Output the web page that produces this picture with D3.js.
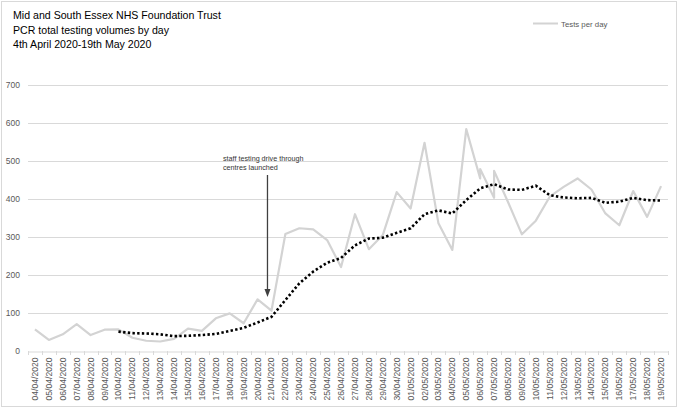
<!DOCTYPE html>
<html>
<head>
<meta charset="utf-8">
<script src="https://cdn.jsdelivr.net/npm/d3@7"></script>
<style>
  html, body { margin: 0; padding: 0; background: #fff; }
  svg { display: block; }
</style>
</head>
<body>
<svg id="chart" width="680" height="408"></svg>
<script>
// ---------- DATA ----------
const titleLines = [
  "Mid and South Essex NHS Foundation Trust",
  "PCR total testing volumes by day",
  "4th April 2020-19th May 2020"
];
const dateLabels = [
  "04/04/2020","05/04/2020","06/04/2020","07/04/2020","08/04/2020","09/04/2020",
  "10/04/2020","11/04/2020","12/04/2020","13/04/2020","14/04/2020","15/04/2020",
  "16/04/2020","17/04/2020","18/04/2020","19/04/2020","20/04/2020","21/04/2020",
  "22/04/2020","23/04/2020","24/04/2020","25/04/2020","26/04/2020","27/04/2020",
  "28/04/2020","29/04/2020","30/04/2020","01/05/2020","02/05/2020","03/05/2020",
  "04/05/2020","05/05/2020","06/05/2020","07/05/2020","08/05/2020","09/05/2020",
  "10/05/2020","11/05/2020","12/05/2020","13/05/2020","14/05/2020","15/05/2020",
  "16/05/2020","17/05/2020","18/05/2020","19/05/2020"
];
// test records (two records on 06/05 and 07/05)
const testDates = [
  "04/04/2020","05/04/2020","06/04/2020","07/04/2020","08/04/2020","09/04/2020",
  "10/04/2020","11/04/2020","12/04/2020","13/04/2020","14/04/2020","15/04/2020",
  "16/04/2020","17/04/2020","18/04/2020","19/04/2020","20/04/2020","21/04/2020",
  "22/04/2020","23/04/2020","24/04/2020","25/04/2020","26/04/2020","27/04/2020",
  "28/04/2020","29/04/2020","30/04/2020","01/05/2020","02/05/2020","03/05/2020",
  "04/05/2020","05/05/2020","06/05/2020","06/05/2020","07/05/2020","07/05/2020",
  "08/05/2020","09/05/2020","10/05/2020","11/05/2020","12/05/2020","13/05/2020",
  "14/05/2020","15/05/2020","16/05/2020","17/05/2020","18/05/2020","19/05/2020"
];
const testsPerDay = [
  57, 29, 44, 71, 42, 56,
  57, 35, 27, 25, 32, 59,
  53, 86, 99, 73, 136, 106,
  308, 323, 320, 292, 221, 360,
  268, 305, 418, 375, 548, 336,
  266, 584, 454, 479, 403, 474,
  392, 307, 343, 406, 432, 454,
  425, 362, 331, 421, 353, 434
];
// moving-average trend line, 10/04/2020 .. 19/05/2020
const trendDates = dateLabels.slice(6);
const trendValues = [
  51, 47, 46, 44, 39, 40, 42, 45, 53, 61,
  75, 90, 134, 178, 209, 232, 245, 278, 296, 298,
  311, 323, 360, 370, 362, 397, 428, 439, 425, 424,
  435, 410, 404, 402, 403, 390, 393, 403, 397, 396
];
const yTicks = [0, 100, 200, 300, 400, 500, 600, 700];
const legendLabel = "Tests per day";
const annotationLines = ["staff testing drive through", "centres launched"];
const annotationDate = "21/04/2020";

// ---------- LAYOUT ----------
const svg = d3.select("#chart");
const plot = { left: 28, right: 668, top: 85, bottom: 351 };
const font = "'Liberation Sans', Arial, sans-serif";
const textGray = "#595959";

svg.append("rect")
  .attr("x", 1.5).attr("y", 1.5).attr("width", 675).attr("height", 405)
  .attr("fill", "#fff").attr("stroke", "#d9d9d9").attr("stroke-width", 1);

const x = d3.scaleBand().domain(dateLabels).range([plot.left, plot.right]).padding(0);
const xc = d => x(d) + x.bandwidth() / 2;
const y = d3.scaleLinear().domain([0, 700]).range([plot.bottom, plot.top]);

// gridlines
svg.append("g").selectAll("line").data(yTicks.filter(t => t > 0)).join("line")
  .attr("x1", plot.left).attr("x2", plot.right)
  .attr("y1", d => Math.round(y(d)) + 0.5).attr("y2", d => Math.round(y(d)) + 0.5)
  .attr("stroke", "#d9d9d9").attr("stroke-width", 1);

// y axis labels
const yAxis = d3.axisLeft(y).tickValues(yTicks).tickSize(0).tickPadding(8);
const gy = svg.append("g").attr("transform", `translate(${plot.left},0)`).call(yAxis);
gy.select(".domain").remove();
gy.selectAll("text").attr("font-family", font).attr("font-size", 8.5).attr("fill", textGray);

// x axis
const xAxis = d3.axisBottom(x).tickSize(0).tickPadding(0);
const gx = svg.append("g").attr("transform", `translate(0,${Math.round(plot.bottom) + 0.5})`).call(xAxis);
gx.select(".domain").attr("stroke", "#d9d9d9");
gx.selectAll("text")
  .attr("font-family", font).attr("font-size", 8.6).attr("fill", textGray)
  .attr("text-anchor", "end")
  .attr("transform", "translate(3,6) rotate(-90)")
  .attr("dy", 0).attr("dx", 0).attr("y", 0);
// category boundary tick marks
svg.append("g").selectAll("line").data(dateLabels.concat(["__end"])).join("line")
  .attr("x1", (d, i) => Math.round(plot.left + i * x.bandwidth()) + 0.5)
  .attr("x2", (d, i) => Math.round(plot.left + i * x.bandwidth()) + 0.5)
  .attr("y1", plot.bottom).attr("y2", plot.bottom + 4)
  .attr("stroke", "#d9d9d9").attr("stroke-width", 1);

// tests per day line
const testPoints = testDates.map((d, i) => [xc(d), y(testsPerDay[i])]);
svg.append("path")
  .attr("d", d3.line()(testPoints))
  .attr("fill", "none").attr("stroke", "#d3d3d3").attr("stroke-width", 2.2)
  .attr("stroke-linejoin", "round");

// trend line (dotted)
const trendPoints = trendDates.map((d, i) => [xc(d), y(trendValues[i])]);
svg.append("path")
  .attr("d", d3.line()(trendPoints))
  .attr("fill", "none").attr("stroke", "#000").attr("stroke-width", 2.6)
  .attr("stroke-dasharray", "2.4,2.3");

// annotation
const ax = xc(annotationDate) - 4;
svg.append("text").attr("font-family", font).attr("font-size", 7.2).attr("fill", "#333")
  .selectAll("tspan").data(annotationLines).join("tspan")
  .attr("x", 223).attr("y", (d, i) => 161 + i * 9.3).text(d => d);
svg.append("line")
  .attr("x1", ax).attr("x2", ax).attr("y1", 175).attr("y2", 290)
  .attr("stroke", "#404040").attr("stroke-width", 1.3);
svg.append("path")
  .attr("d", `M${ax - 3},${289} L${ax + 3},${289} L${ax},${297} Z`)
  .attr("fill", "#404040");

// title
svg.append("g").selectAll("text").data(titleLines).join("text")
  .attr("x", 13).attr("y", (d, i) => 19.3 + i * 14.5)
  .attr("font-family", font).attr("font-size", 10.6).attr("fill", "#000")
  .text(d => d);

// legend
svg.append("line").attr("x1", 533).attr("x2", 558).attr("y1", 23.5).attr("y2", 23.5)
  .attr("stroke", "#d3d3d3").attr("stroke-width", 2);
svg.append("text").attr("x", 561).attr("y", 26.5)
  .attr("font-family", font).attr("font-size", 7.8).attr("fill", textGray)
  .text(legendLabel);
</script>
</body>
</html>
